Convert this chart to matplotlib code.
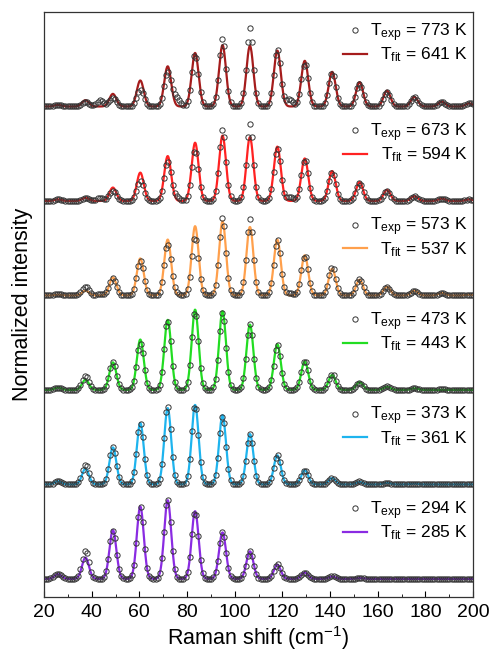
import numpy as np
import matplotlib
matplotlib.use('Agg')
import matplotlib.pyplot as plt
import matplotlib.transforms as mtransforms

plt.rcParams['font.family'] = ['Liberation Sans', 'DejaVu Sans']
plt.rcParams['mathtext.fontset'] = 'custom'
plt.rcParams['mathtext.rm'] = 'Liberation Sans'
plt.rcParams['mathtext.it'] = 'Liberation Sans:italic'

# O2 rotational Raman line positions (cm-1)
line_pos = [25.9, 37.4, 48.9, 60.4, 71.9, 83.4, 94.9, 106.4,
            117.9, 129.4, 140.9, 152.4, 163.9, 175.4, 186.9, 198.4]
# weak extra lines only seen in the hot experimental spectra
extra_pos = [43.5, 75.5, 123.0]

t_exp = [294, 373, 473, 573, 673, 773]
t_fit = [285, 361, 443, 537, 594, 641]
colors = ['#8a2be2', '#1eb4ee', '#22dd22', '#ffa04c', '#ff2222', '#a51c1c']

# fitted peak heights (normalized intensity), bottom to top
fit_294 = [0.06, 0.27, 0.62, 0.92, 1.00, 0.86, 0.59, 0.35, 0.18, 0.08, 0.03, 0.01, 0, 0, 0, 0]
fit_373 = [0.04, 0.20, 0.47, 0.78, 0.97, 1.01, 0.88, 0.64, 0.37, 0.18, 0.08, 0.03, 0.02, 0.01, 0, 0]
fit_473 = [0.03, 0.13, 0.35, 0.64, 0.89, 1.02, 1.00, 0.83, 0.58, 0.36, 0.19, 0.10, 0.04, 0.02, 0.0, 0.0]
fit_573 = [0.01, 0.06, 0.23, 0.47, 0.71, 0.88, 0.94, 0.87, 0.71, 0.51, 0.34, 0.20, 0.11, 0.06, 0.03, 0.01]
fit_673 = [0.02, 0.04, 0.17, 0.36, 0.57, 0.74, 0.83, 0.81, 0.69, 0.54, 0.38, 0.24, 0.14, 0.06, 0.03, 0.02]
fit_773 = [0.02, 0.08, 0.16, 0.33, 0.51, 0.68, 0.78, 0.77, 0.71, 0.58, 0.44, 0.31, 0.20, 0.12, 0.06, 0.04]

# experimental peak heights
exp_294 = [0.07, 0.36, 0.61, 0.91, 1.02, 0.86, 0.60, 0.35, 0.19, 0.08, 0.04, 0.01, 0, 0, 0, 0]
exp_373 = [0.04, 0.25, 0.47, 0.77, 1.00, 1.01, 0.87, 0.64, 0.38, 0.18, 0.08, 0.04, 0.02, 0.01, 0, 0]
exp_473 = [0.03, 0.18, 0.35, 0.59, 0.88, 1.00, 0.99, 0.84, 0.57, 0.37, 0.20, 0.09, 0.05, 0.02, 0.01, 0]
exp_573 = [0.02, 0.11, 0.22, 0.44, 0.65, 0.75, 0.99, 0.97, 0.71, 0.51, 0.36, 0.21, 0.11, 0.06, 0.03, 0.01]
exp_673 = [0.02, 0.04, 0.13, 0.25, 0.50, 0.64, 0.91, 0.98, 0.67, 0.53, 0.36, 0.23, 0.13, 0.06, 0.03, 0.02]
exp_773 = [0.02, 0.06, 0.11, 0.21, 0.44, 0.66, 0.87, 1.00, 0.73, 0.55, 0.42, 0.29, 0.19, 0.12, 0.06, 0.05]

extra_294 = [0, 0, 0]
extra_373 = [0, 0, 0]
extra_473 = [0, 0, 0]
extra_573 = [0.02, 0.03, 0.03]
extra_673 = [0.04, 0.05, 0.05]
extra_773 = [0.08, 0.11, 0.09]

fits = [fit_294, fit_373, fit_473, fit_573, fit_673, fit_773]
exps = [exp_294, exp_373, exp_473, exp_573, exp_673, exp_773]
extras = [extra_294, extra_373, extra_473, extra_573, extra_673, extra_773]

width = 1.45     # gaussian sigma of each line, cm-1
step = 1.2       # vertical offset between spectra


def spectrum(x, pos, amp):
    y = np.zeros_like(x)
    for p, a in zip(pos, amp):
        y += a * np.exp(-0.5 * ((x - p) / width) ** 2)
    return y


x_fit = np.linspace(20, 200, 1200)
x_exp = np.arange(20, 200.01, 0.9)

fig = plt.figure(figsize=(4.91, 6.56), dpi=100)
ax = fig.add_axes([44 / 491, 59 / 656, 429 / 491, 585 / 656])

trans = mtransforms.blended_transform_factory(ax.transAxes, ax.transData)
leg_dy = [0.90, 0.90, 0.90, 0.90, 0.90, 0.97]
circ = dict(ms=3.8, mfc='none', mec='#333333', mew=0.7)

for i in range(6):
    off = i * step
    y_fit = spectrum(x_fit, line_pos, fits[i]) + off
    y_exp = spectrum(x_exp, line_pos, exps[i]) + spectrum(x_exp, extra_pos, extras[i]) + off
    ax.plot(x_fit, y_fit, color=colors[i], lw=1.6, zorder=2)
    ax.plot(x_exp, y_exp, 'o', zorder=3, **circ)

    # legend for this band
    y1 = off + leg_dy[i]
    y2 = y1 - 0.30
    ax.plot([0.725], [y1], 'o', transform=trans, clip_on=False, **circ)
    ax.plot([0.697, 0.753], [y2, y2], color=colors[i], lw=1.6,
            transform=trans, clip_on=False)
    ax.text(0.988, y1 - 0.075, r'T$_{\mathrm{exp}}$ = %d K' % t_exp[i],
            transform=trans, ha='right', va='baseline', fontsize=12.5)
    ax.text(0.988, y2 - 0.075, r'T$_{\mathrm{fit}}$ = %d K' % t_fit[i],
            transform=trans, ha='right', va='baseline', fontsize=12.5)

ax.set_xlim(20, 200)
ax.set_ylim(-0.23, 7.2)
ax.set_xticks(np.arange(20, 201, 20))
ax.set_xticks(np.arange(30, 200, 20), minor=True)
ax.set_yticks([])
ax.tick_params(axis='x', which='major', direction='in', length=4, labelsize=14, pad=5)
ax.tick_params(axis='x', which='minor', direction='in', length=2)
for s in ax.spines.values():
    s.set_linewidth(0.9)
    s.set_color('#333333')

ax.set_xlabel('Raman shift (cm$^{-1}$)', fontsize=15.5, labelpad=2)
ax.set_ylabel('Normalized intensity', fontsize=15.5, labelpad=8)

fig.savefig('out.png', dpi=100)
